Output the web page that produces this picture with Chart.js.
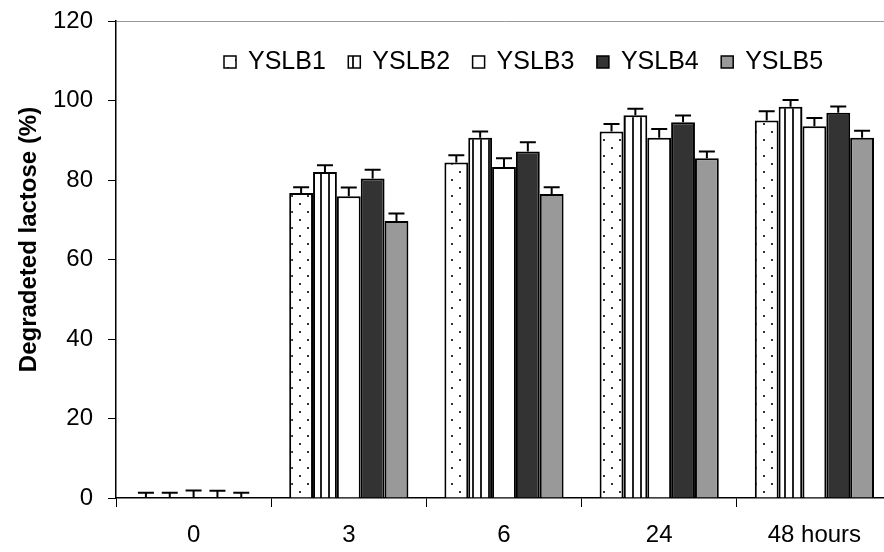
<!DOCTYPE html>
<html>
<head>
<meta charset="utf-8">
<script src="https://cdn.jsdelivr.net/npm/chart.js@4.4.0/dist/chart.umd.min.js"></script>
<style>
    html, body { margin: 0; padding: 0; background: #fff; overflow: hidden; }
    #wrap { position: relative; width: 900px; height: 552px; }
</style>
</head>
<body>
<div id="wrap"><canvas id="lactoseChart"></canvas></div>
<script>
// data
const hours = ['0', '3', '6', '24', '48 hours'];
const seriesNames = ['YSLB1', 'YSLB2', 'YSLB3', 'YSLB4', 'YSLB5'];
const yslb1 = [0, 76.7, 84.4, 92.2, 95.0];
const yslb2 = [0, 82.0, 90.6, 96.3, 98.4];
const yslb3 = [0, 75.9, 83.3, 90.6, 93.5];
const yslb4 = [0, 80.4, 87.2, 94.5, 96.9];
const yslb5 = [0, 69.7, 76.5, 85.5, 90.6];
const yslb1Err = [1.3, 1.5, 1.8, 1.9, 2.3];
const yslb2Err = [1.3, 1.7, 1.6, 1.6, 1.7];
const yslb3Err = [1.9, 2.2, 2.2, 2.2, 2.1];
const yslb4Err = [1.8, 2.2, 2.3, 1.7, 1.6];
const yslb5Err = [1.3, 1.9, 1.7, 1.7, 1.8];
const yTicks = [0, 20, 40, 60, 80, 100, 120];

// fill patterns
function dotPattern() {
    const c = document.createElement('canvas');
    c.width = 16; c.height = 16;
    const x = c.getContext('2d');
    x.fillStyle = '#fff';
    x.fillRect(0, 0, 16, 16);
    x.fillStyle = '#333';
    x.fillRect(3, 3, 2, 2);
    x.fillRect(11, 11, 2, 2);
    return x.createPattern(c, 'repeat');
}

function stripePattern() {
    const c = document.createElement('canvas');
    c.width = 8; c.height = 4;
    const x = c.getContext('2d');
    x.fillStyle = '#fff';
    x.fillRect(0, 0, 8, 4);
    x.fillStyle = '#222';
    x.fillRect(0, 0, 2, 4);
    return x.createPattern(c, 'repeat');
}

const fills = [dotPattern(), stripePattern(), '#ffffff', '#333333', '#999999'];
const values = [yslb1, yslb2, yslb3, yslb4, yslb5];
const errors = [yslb1Err, yslb2Err, yslb3Err, yslb4Err, yslb5Err];
const font = 'Liberation Sans, Arial, sans-serif';

// error bars, upper side only
const errorBars = {
    id: 'errorBars',
    afterDatasetsDraw(chart) {
        const ctx = chart.ctx;
        const yScale = chart.scales.y;
        ctx.save();
        ctx.strokeStyle = '#000';
        ctx.lineWidth = 2;
        chart.data.datasets.forEach((ds, i) => {
            const meta = chart.getDatasetMeta(i);
            meta.data.forEach((bar, j) => {
                const top = yScale.getPixelForValue(ds.data[j] + ds.errors[j]);
                ctx.beginPath();
                ctx.moveTo(bar.x, bar.y);
                ctx.lineTo(bar.x, top);
                ctx.moveTo(bar.x - 8, top);
                ctx.lineTo(bar.x + 8, top);
                ctx.stroke();
            });
        });
        ctx.restore();
    }
};

// one-row legend inside the plot, as in the original
const plotLegend = {
    id: 'plotLegend',
    afterDraw(chart) {
        const ctx = chart.ctx;
        const area = chart.chartArea;
        ctx.save();
        ctx.font = '25px ' + font;
        ctx.textBaseline = 'middle';
        chart.data.datasets.forEach((ds, i) => {
            const x = area.left + 108 + i * 124.3;
            const y = area.top + 41;
            ctx.fillStyle = ds.backgroundColor;
            ctx.fillRect(x, y - 6, 12, 12);
            ctx.strokeStyle = '#000';
            ctx.lineWidth = 1.5;
            ctx.strokeRect(x, y - 6, 12, 12);
            ctx.fillStyle = '#000';
            ctx.fillText(ds.label, x + 24, y);
        });
        ctx.restore();
    }
};

new Chart(document.getElementById('lactoseChart'), {
    type: 'bar',
    data: {
        labels: hours,
        datasets: seriesNames.map((name, i) => ({
            label: name,
            data: values[i],
            errors: errors[i],
            backgroundColor: fills[i],
            borderColor: '#000',
            borderWidth: 2,
            barPercentage: 1,
            categoryPercentage: 0.768
        }))
    },
    options: {
        responsive: true,
        maintainAspectRatio: false,
        animation: false,
        layout: {
            padding: { top: 0, right: 8, bottom: 0, left: 0 }
        },
        plugins: {
            legend: { display: false },
            tooltip: { enabled: false }
        },
        scales: {
            x: {
                offset: true,
                afterFit: (scale) => {
                    scale.height = 54;
                },
                grid: {
                    offset: true,
                    drawOnChartArea: false,
                    tickLength: 9,
                    tickColor: '#000'
                },
                border: { color: '#000', width: 1.5 },
                ticks: {
                    color: '#000',
                    padding: 14,
                    maxRotation: 0,
                    font: { family: font, size: 24 }
                }
            },
            y: {
                min: 0,
                max: 120,
                afterBuildTicks: (scale) => {
                    scale.ticks = yTicks.map(v => ({ value: v }));
                },
                afterFit: (scale) => {
                    scale.width = 116;
                    scale.paddingTop = 21;
                },
                grid: {
                    color: (c) => c.tick && c.tick.value === 120 ? '#999' : 'rgba(0,0,0,0)',
                    tickColor: '#000',
                    tickLength: 8
                },
                border: { color: '#000', width: 1.5 },
                ticks: {
                    color: '#000',
                    padding: 15,
                    font: { family: font, size: 24 }
                },
                title: {
                    display: true,
                    text: '      Degradeted lactose (%)',
                    color: '#000',
                    padding: { top: 15, bottom: 0 },
                    font: { family: font, size: 24, weight: 'bold' }
                }
            }
        }
    },
    plugins: [errorBars, plotLegend]
});
</script>
</body>
</html>
